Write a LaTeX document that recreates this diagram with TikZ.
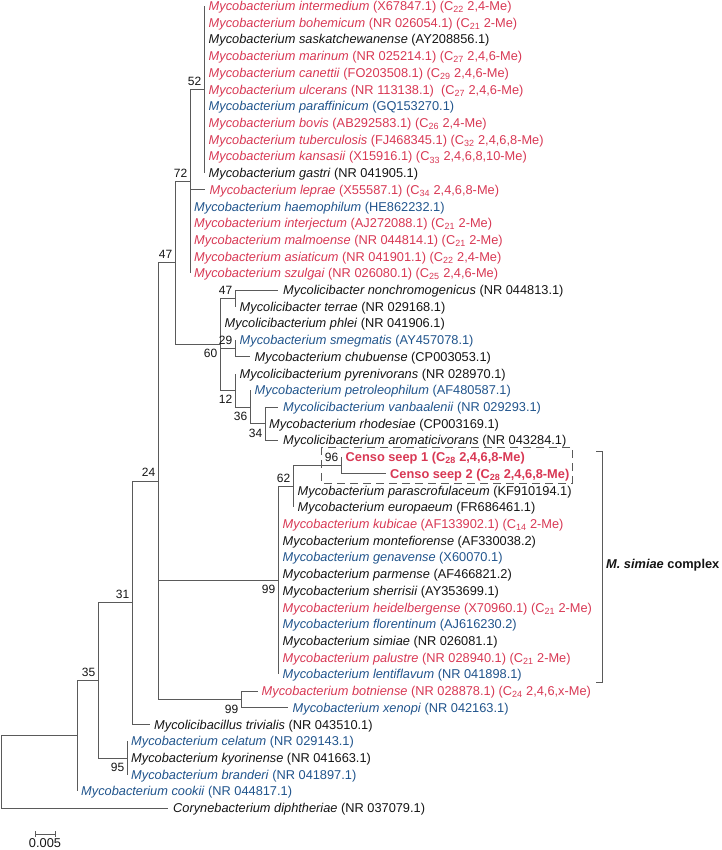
\documentclass[tikz,border=0pt]{standalone}
\usepackage{fontspec}
\setmainfont{Liberation Sans}
\definecolor{mred}{RGB}{216,56,84}
\definecolor{mblue}{RGB}{32,84,140}
\definecolor{mblack}{RGB}{20,20,20}
\definecolor{lgray}{RGB}{90,90,90}
\newcommand\Sb[1]{\textsubscript{#1}}
\newcommand\lfnt{\fontsize{12.8pt}{15pt}\selectfont}
\newcommand\bsfnt{\fontsize{12pt}{14pt}\selectfont}
\newcommand\Lf[5]{\coordinate (e#1) at (#2,#1); \node[lf,text=#4] (t#1) at (#3,#1) {#5};}
\newcommand\My{\textit{Mycobacterium}}
\tikzset{
  br/.style={draw=lgray, line width=0.9pt},
  lf/.style={anchor=base west, inner sep=0pt, yshift=-4.5pt, font=\lfnt},
  bs/.style={inner sep=0pt, font=\bsfnt, text=mblack},
  bsa/.style={bs, anchor=south east, xshift=-2.5pt, yshift=4pt},
  bsb/.style={bs, anchor=north east, xshift=-2.5pt, yshift=-5pt},
  dbox/.style={draw=lgray, line width=0.9pt, dash pattern=on 8pt off 5pt},
}
\begin{document}
\begin{tikzpicture}[x=1pt,y=-1pt]
\useasboundingbox (0,0) rectangle (721,850);
\begin{scope}[yshift=-6pt, y=-16.71pt]
% internal nodes
\coordinate (n52) at (204,5);
\coordinate (n72) at (190,10.5);
\coordinate (nmc) at (235,17.5);
\coordinate (n29) at (235,20.5);
\coordinate (n34) at (265,25);
\coordinate (n36) at (250,24);
\coordinate (n12) at (235,23);
\coordinate (n60) at (220,20.25);
\coordinate (n47) at (175,15.375);
\coordinate (n96) at (341,27.5);
\coordinate (n62) at (293,28.75);
\coordinate (n99) at (278,34.375);
\coordinate (n99b) at (241,41.5);
\coordinate (n24) at (158,28.4375);
\coordinate (n31) at (132,35.71875);
\coordinate (n95) at (127,45);
\coordinate (n35) at (98,40.359);
\coordinate (ning) at (77,43.68);
\coordinate (root) at (1,45.84);
% leaves
\Lf{0}{204}{208.5}{mred}{\textit{Mycobacterium intermedium} (X67847.1) (C\Sb{22} 2,4-Me)}
\Lf{1}{204}{208.5}{mred}{\textit{Mycobacterium bohemicum} (NR 026054.1) (C\Sb{21} 2-Me)}
\Lf{2}{204}{208.5}{mblack}{\textit{Mycobacterium saskatchewanense} (AY208856.1)}
\Lf{3}{204}{208.5}{mred}{\textit{Mycobacterium marinum} (NR 025214.1) (C\Sb{27} 2,4,6-Me)}
\Lf{4}{204}{208.5}{mred}{\textit{Mycobacterium canettii} (FO203508.1) (C\Sb{29} 2,4,6-Me)}
\Lf{5}{204}{208.5}{mred}{\textit{Mycobacterium ulcerans} (NR 113138.1) \ (C\Sb{27} 2,4,6-Me)}
\Lf{6}{204}{208.5}{mblue}{\textit{Mycobacterium paraffinicum} (GQ153270.1)}
\Lf{7}{204}{208.5}{mred}{\textit{Mycobacterium bovis} (AB292583.1) (C\Sb{26} 2,4-Me)}
\Lf{8}{204}{208.5}{mred}{\textit{Mycobacterium tuberculosis} (FJ468345.1) (C\Sb{32} 2,4,6,8-Me)}
\Lf{9}{204}{208.5}{mred}{\textit{Mycobacterium kansasii} (X15916.1) (C\Sb{33} 2,4,6,8,10-Me)}
\Lf{10}{204}{208.5}{mblack}{\textit{Mycobacterium gastri} (NR 041905.1)}
\Lf{11}{205}{209.5}{mred}{\textit{Mycobacterium leprae} (X55587.1) (C\Sb{34} 2,4,6,8-Me)}
\Lf{12}{190}{194}{mblue}{\textit{Mycobacterium haemophilum} (HE862232.1)}
\Lf{13}{190}{194}{mred}{\textit{Mycobacterium interjectum} (AJ272088.1) (C\Sb{21} 2-Me)}
\Lf{14}{190}{194}{mred}{\textit{Mycobacterium malmoense} (NR 044814.1) (C\Sb{21} 2-Me)}
\Lf{15}{190}{194}{mred}{\textit{Mycobacterium asiaticum} (NR 041901.1) (C\Sb{22} 2,4-Me)}
\Lf{16}{190}{194}{mred}{\textit{Mycobacterium szulgai} (NR 026080.1) (C\Sb{25} 2,4,6-Me)}
\Lf{17}{278}{283}{mblack}{\textit{Mycolicibacter nonchromogenicus} (NR 044813.1)}
\Lf{18}{235}{239.5}{mblack}{\textit{Mycolicibacter terrae} (NR 029168.1)}
\Lf{19}{220}{224.5}{mblack}{\textit{Mycolicibacterium phlei} (NR 041906.1)}
\Lf{20}{235}{239.5}{mblue}{\textit{Mycobacterium smegmatis} (AY457078.1)}
\Lf{21}{250}{254.5}{mblack}{\textit{Mycobacterium chubuense} (CP003053.1)}
\Lf{22}{235}{239.5}{mblack}{\textit{Mycolicibacterium pyrenivorans} (NR 028970.1)}
\Lf{23}{250}{254.5}{mblue}{\textit{Mycobacterium petroleophilum} (AF480587.1)}
\Lf{24}{278}{283}{mblue}{\textit{Mycolicibacterium vanbaalenii} (NR 029293.1)}
\Lf{25}{265}{269}{mblack}{\textit{Mycobacterium rhodesiae} (CP003169.1)}
\Lf{26}{278}{283}{mblack}{\textit{Mycolicibacterium aromaticivorans} (NR 043284.1)}
\Lf{27}{342}{345.5}{mred}{\textbf{Censo seep 1 (C\Sb{28} 2,4,6,8-Me)}}
\Lf{28}{386}{390}{mred}{\textbf{Censo seep 2 (C\Sb{28} 2,4,6,8-Me)}}
\Lf{29}{293}{297.5}{mblack}{\textit{Mycobacterium parascrofulaceum} (KF910194.1)}
\Lf{30}{293}{297.5}{mblack}{\textit{Mycobacterium europaeum} (FR686461.1)}
\Lf{31}{278}{282.5}{mred}{\textit{Mycobacterium kubicae} (AF133902.1) (C\Sb{14} 2-Me)}
\Lf{32}{278}{282.5}{mblack}{\textit{Mycobacterium montefiorense} (AF330038.2)}
\Lf{33}{278}{282.5}{mblue}{\textit{Mycobacterium genavense} (X60070.1)}
\Lf{34}{278}{282.5}{mblack}{\textit{Mycobacterium parmense} (AF466821.2)}
\Lf{35}{278}{282.5}{mblack}{\textit{Mycobacterium sherrisii} (AY353699.1)}
\Lf{36}{278}{282.5}{mred}{\textit{Mycobacterium heidelbergense} (X70960.1) (C\Sb{21} 2-Me)}
\Lf{37}{278}{282.5}{mblue}{\textit{Mycobacterium florentinum} (AJ616230.2)}
\Lf{38}{278}{282.5}{mblack}{\textit{Mycobacterium simiae} (NR 026081.1)}
\Lf{39}{278}{282.5}{mred}{\textit{Mycobacterium palustre} (NR 028940.1) (C\Sb{21} 2-Me)}
\Lf{40}{278}{282.5}{mblue}{\textit{Mycobacterium lentiflavum} (NR 041898.1)}
\Lf{41}{258}{261.5}{mred}{\textit{Mycobacterium botniense} (NR 028878.1) (C\Sb{24} 2,4,6,x-Me)}
\Lf{42}{288}{292.5}{mblue}{\textit{Mycobacterium xenopi} (NR 042163.1)}
\Lf{43}{150}{154}{mblack}{\textit{Mycolicibacillus trivialis} (NR 043510.1)}
\Lf{44}{127}{131}{mblue}{\textit{Mycobacterium celatum} (NR 029143.1)}
\Lf{45}{127}{131}{mblack}{\textit{Mycobacterium kyorinense} (NR 041663.1)}
\Lf{46}{127}{131}{mblue}{\textit{Mycobacterium branderi} (NR 041897.1)}
\Lf{47}{77}{81}{mblue}{\textit{Mycobacterium cookii} (NR 044817.1)}
\Lf{48}{168}{173}{mblack}{\textit{Corynebacterium diphtheriae} (NR 037079.1)}
% branches
\foreach \i in {0,...,10} \draw[br] (n52) |- (e\i);
\draw[br] (n72) |- (n52);
\foreach \i in {11,...,16} \draw[br] (n72) |- (e\i);
\draw[br] (n47) |- (n72);
\draw[br] (n47) |- (n60);
\draw[br] (n60) |- (nmc);
\draw[br] (n60) |- (e19);
\draw[br] (n60) |- (n29);
\draw[br] (n60) |- (n12);
\foreach \i in {17,18} \draw[br] (nmc) |- (e\i);
\foreach \i in {20,21} \draw[br] (n29) |- (e\i);
\draw[br] (n12) |- (e22);
\draw[br] (n12) |- (n36);
\draw[br] (n36) |- (e23);
\draw[br] (n36) |- (n34);
\foreach \i in {24,25,26} \draw[br] (n34) |- (e\i);
\draw[br] (n24) |- (n47);
\draw[br] (n24) |- (n99);
\draw[br] (n24) |- (n99b);
\draw[br] (n99) |- (n62);
\foreach \i in {31,...,40} \draw[br] (n99) |- (e\i);
\draw[br] (n62) |- (n96);
\foreach \i in {29,30} \draw[br] (n62) |- (e\i);
\foreach \i in {27,28} \draw[br] (n96) |- (e\i);
\foreach \i in {41,42} \draw[br] (n99b) |- (e\i);
\draw[br] (n31) |- (n24);
\draw[br] (n31) |- (e43);
\draw[br] (n35) |- (n31);
\draw[br] (n35) |- (n95);
\foreach \i in {44,45,46} \draw[br] (n95) |- (e\i);
\draw[br] (ning) |- (n35);
\draw[br] (ning) |- (e47);
\draw[br] (root) |- (ning);
\draw[br] (root) |- (e48);
% bootstrap values
\node[bsa] (b52) at (n52) {52};
\node[bsa] (b72) at (n72) {72};
\node[bsa] (b47) at (n47) {47};
\node[bsa] (bmc) at (nmc) {47};
\node[bsa] (b29) at (n29) {29};
\node[bsb] (b60) at (n60) {60};
\node[bsb] (b12) at (n12) {12};
\node[bsb] (b36) at (n36) {36};
\node[bsb] (b34) at (n34) {34};
\node[bsa] (b96) at (n96) {96};
\node[bsa] (b62) at (n62) {62};
\node[bsb] (b99) at (n99) {99};
\node[bsa] (b24) at (n24) {24};
\node[bsa] (b31) at (n31) {31};
\node[bsa] (b35) at (n35) {35};
\node[bsb] (b99b) at (n99b) {99};
\node[bsb] (b95) at (n95) {95};
\end{scope}
% dashed box around Censo seep sequences
\draw[dbox] (321,447) rectangle (572,483);
% M. simiae complex bracket
\coordinate (bt) at (602,451);
\coordinate (bb) at (602,682);
\draw[br] ([xshift=-6pt]bt) -- (bt) -- (bb) -- ([xshift=-6pt]bb);
\node[anchor=west, inner sep=0pt, font=\lfnt\bfseries, text=mblack] (msc) at (606,565) {\textit{M. simiae} complex};
% scale bar
\coordinate (s1) at (35,834);
\coordinate (s2) at (55,834);
\draw[br] (s1) -- (s2);
\draw[br] ([yshift=3pt]s1) -- ([yshift=-3pt]s1);
\draw[br] ([yshift=3pt]s2) -- ([yshift=-3pt]s2);
\node[anchor=base, inner sep=0pt, font=\lfnt, text=mblack] (sl) at (45,850) [yshift=2.5pt] {0.005};
\end{tikzpicture}
\end{document}
